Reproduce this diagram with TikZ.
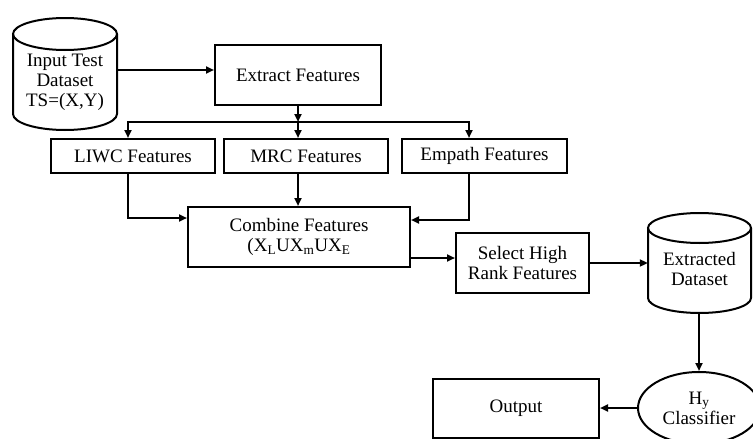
\documentclass[tikz,border=0pt]{standalone}
\usepackage{fontspec}
\setmainfont{Liberation Serif}
\usetikzlibrary{arrows.meta,shapes.geometric}
\begin{document}
\begin{tikzpicture}[x=1pt,y=-1pt,
  every node/.style={font=\fontsize{19}{20}\selectfont, inner sep=0pt, align=center},
  box/.style={draw, line width=2pt, minimum width=#1},
  arr/.style={line width=2pt, -{Triangle[length=8pt,width=7pt]}},
  cyl/.style={line width=2pt}]
\useasboundingbox[fill=white] (0,0) rectangle (753,439);

% input cylinder
\draw[cyl] (13,34) -- (13,114) arc[start angle=180,end angle=360,x radius=52pt,y radius=16pt] -- (117,34);
\draw[cyl] (65,34) ellipse[x radius=52pt,y radius=16pt];
\node[minimum width=104pt, minimum height=80pt] (in) at (65,74) {};
\node (intext) at (65,82) {Input Test\\Dataset\\TS=(X,Y)};

% extracted dataset cylinder
\draw[cyl] (648,228) -- (648,298) arc[start angle=180,end angle=360,x radius=51.5pt,y radius=15pt] -- (751,228);
\draw[cyl] (699.5,228) ellipse[x radius=51.5pt,y radius=15pt];
\node[minimum width=103pt, minimum height=100pt] (exd) at (699.5,263) {};
\node (exdtext) at (699.5,269) {Extracted\\Dataset};

\node[box=166pt, minimum height=60pt] (ext) at (298,75) {Extract Features};
\node[box=164pt, minimum height=34pt] (liwc) at (133,156) {LIWC Features};
\node[box=164pt, minimum height=34pt] (mrc) at (306,156) {MRC Features};
\node[box=165pt, minimum height=34pt] (emp) at (484.5,156) {Empath Features};
\node[box=222pt, minimum height=60pt] (comb) at (299,237) {Combine Features\\(X\textsubscript{L}UX\textsubscript{m}UX\textsubscript{E}};
\node[box=133pt, minimum height=60pt] (sel) at (522.5,263) {Select High\\Rank Features};
\node[draw, ellipse, line width=2pt, minimum width=122pt, minimum height=72pt] (hy) at (699,408) {H\textsubscript{y}\\Classifier};
\node[box=166pt, minimum height=59pt] (out) at (516,408.5) {Output};

\coordinate (j) at (298,122);
\coordinate (jl) at (128,122);
\coordinate (jr) at (469,122);

\draw[arr] ([yshift=4pt]in.east) -- ([yshift=4pt]in.east -| ext.west);
\draw[arr] (ext.south -| j) -- (j);
\draw[arr] (j) -- (j |- mrc.north);
\draw[arr] (j) -- (jl) -- (jl |- liwc.north);
\draw[arr] (j) -- (jr) -- (jr |- emp.north);
\draw[arr] (jl |- liwc.south) |- ([yshift=19pt]comb.west);
\draw[arr] (j |- mrc.south) -- (j |- comb.north);
\draw[arr] (jr |- emp.south) |- ([yshift=17pt]comb.east);
\draw[arr] ([yshift=-21pt]comb.east) -- ([yshift=-21pt]comb.east -| sel.west);
\draw[arr] (sel.east) -- (sel.east -| exd.west);
\draw[arr] (exd.south -| hy.north) -- (hy.north);
\draw[arr] (hy.west) -- (hy.west -| out.east);
\end{tikzpicture}
\end{document}
